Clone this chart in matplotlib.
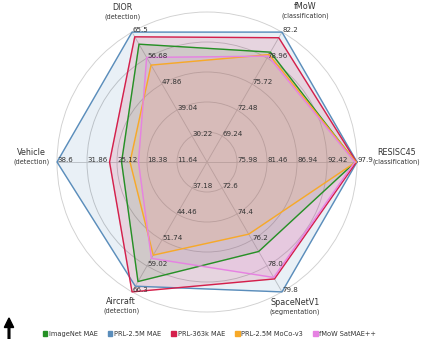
import numpy as np
import matplotlib
matplotlib.use("Agg")
import matplotlib.pyplot as plt
from matplotlib.patches import Patch

# benchmark axes, counter-clockwise from the right
tasks = ["RESISC45", "fMoW", "DIOR", "Vehicle", "Aircraft", "SpaceNetV1"]
task_kind = ["(classification)", "(classification)", "(detection)",
             "(detection)", "(detection)", "(segmentation)"]

# value at the centre and at the outer ring for every axis
axis_min = [70.5, 66.0, 21.4, 4.9, 29.9, 70.8]
axis_max = [97.9, 82.2, 65.5, 38.6, 66.3, 79.8]

# ring labels (0.2 .. 1.0 of the radius)
ring_labels = [
    ["75.98", "81.46", "86.94", "92.42", "97.9"],
    ["69.24", "72.48", "75.72", "78.96", "82.2"],
    ["30.22", "39.04", "47.86", "56.68", "65.5"],
    ["11.64", "18.38", "25.12", "31.86", "38.6"],
    ["37.18", "44.46", "51.74", "59.02", "66.3"],
    ["72.6", "74.4", "76.2", "78.0", "79.8"],
]

models = ["ImageNet MAE", "PRL-2.5M MAE", "PRL-363k MAE",
          "PRL-2.5M MoCo-v3", "fMoW SatMAE++"]
scores = [
    [97.6, 79.7, 61.4, 24.1, 63.4, 77.0],
    [97.9, 82.2, 65.5, 38.6, 64.7, 79.8],
    [97.8, 81.5, 63.9, 26.8, 66.3, 78.9],
    [97.7, 79.4, 54.3, 22.2, 56.0, 75.8],
    [97.5, 79.2, 56.9, 20.3, 56.9, 78.8],
]
colors = ["#259025", "#5a8dbb", "#d41f4b", "#f7a928", "#e682e2"]

# where the axis names sit (degrees, radius)
name_pos = [(1.4, 1.265), (56.9, 1.20), (119.5, 1.15),
            (178.5, 1.17), (239.3, 1.12), (301.3, 1.13)]

angles = np.deg2rad(np.arange(len(tasks)) * 60.0)
lo = np.array(axis_min)
hi = np.array(axis_max)

fig = plt.figure(figsize=(4.23, 3.39), dpi=100)
ax = fig.add_axes([0.1348, 0.0796, 0.7092, 0.885], projection="polar")
ax.set_ylim(0, 1.0)
ax.set_xticks(angles)
ax.set_xticklabels([])
ax.set_yticks([0.2, 0.4, 0.6, 0.8])
ax.set_yticklabels([])
ax.grid(True, color="#c8c8c8", lw=0.65)
ax.spines["polar"].set_color("#d0d0d0")
ax.spines["polar"].set_linewidth(0.65)

for name, vals, c in zip(models, scores, colors):
    r = (np.array(vals) - lo) / (hi - lo)
    th = np.append(angles, angles[0])
    r = np.append(r, r[0])
    ax.plot(th, r, color=c, lw=1.0, clip_on=False, zorder=3)
    ax.fill(th, r, color=c, alpha=0.13, zorder=2)

# ring values along each spoke
for a, labs in zip(angles, ring_labels):
    for k, lab in enumerate(labs):
        ax.text(a, 0.2 * (k + 1), lab, fontsize=5.1, color="#333333",
                ha="left", va="baseline", zorder=5)

for (deg, rr), t, kind in zip(name_pos, tasks, task_kind):
    ax.annotate(t, xy=(np.deg2rad(deg), rr), xytext=(0, 3.3),
                textcoords="offset points", ha="center", va="center",
                fontsize=5.8, color="#333333", annotation_clip=False)
    ax.annotate(kind, xy=(np.deg2rad(deg), rr), xytext=(0, -3.2),
                textcoords="offset points", ha="center", va="center",
                fontsize=4.7, color="#333333", annotation_clip=False)

handles = [Patch(facecolor=c, edgecolor=c) for c in colors]
fig.legend(handles, models, loc="center", bbox_to_anchor=(0.495, 0.015),
           ncol=5, frameon=False, fontsize=4.8, handlelength=0.7,
           handleheight=0.7, handletextpad=0.25, columnspacing=1.5,
           labelcolor="#333333")

fig.patches.append(matplotlib.patches.FancyArrow(
    9 / 423, 0.0, 0, 0.062, width=0.004, head_width=0.022,
    head_length=0.028, length_includes_head=True, color="black",
    transform=fig.transFigure, figure=fig))

fig.savefig("out.png", dpi=100)
